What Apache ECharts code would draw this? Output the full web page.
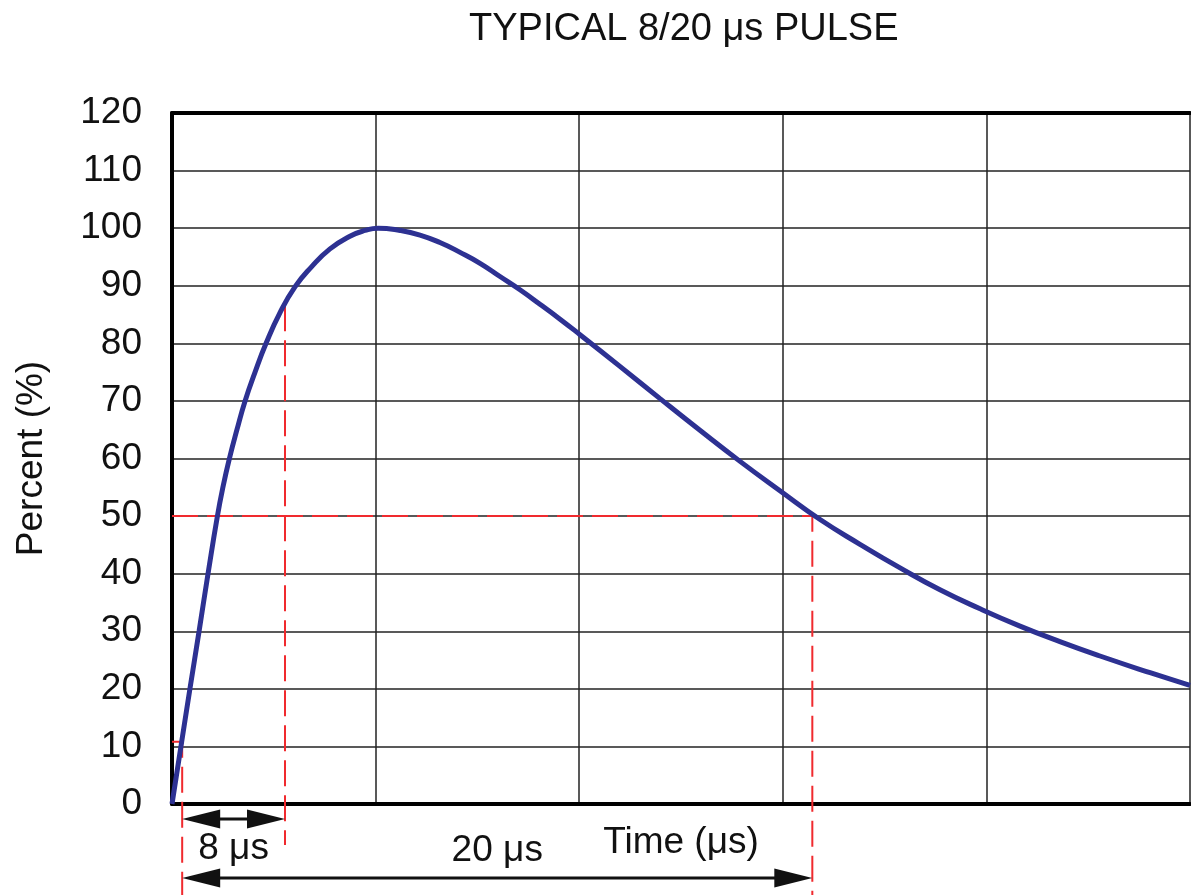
<!DOCTYPE html>
<html><head><meta charset="utf-8">
<script src="https://cdn.jsdelivr.net/npm/echarts@6/dist/echarts.min.js"></script>
<style>html,body{margin:0;padding:0;background:#fff}#c{width:1191px;height:895px}</style>
</head><body><div id="c"></div>
<script>
// ---- data ----
const titleText = 'TYPICAL 8/20 μs PULSE';
const xAxisName = 'Time (μs)';
const yAxisName = 'Percent (%)';
// time in grid units (5 divisions of 10), percent
const curveX = [0, 0.44, 0.88, 1.33, 1.77, 2.23, 2.50, 2.82, 3.19, 3.59, 4.08, 4.62, 5.30, 6.04,
                6.83, 7.76, 8.74, 9.48, 10.12,
                11.20, 12.18, 13.16, 14.15, 15.13, 16.11, 17.09, 18.07, 19.06, 20.04,
                22.0, 23.97, 25.93, 27.9, 29.86, 31.83, 33.79, 35.76, 37.72, 39.69,
                41.65, 43.61, 45.58, 48.04, 50];
const curveY = [0, 10, 20, 30, 40, 50, 55, 60, 65, 70, 75, 80, 85.3, 89.8,
                93.2, 96.4, 98.6, 99.6, 100,
                99.6, 98.8, 97.5, 95.8, 93.9, 91.6, 89.3, 86.8, 84.2, 81.5,
                76.0, 70.4, 64.9, 59.5, 54.4, 49.4, 45.1, 41.0, 37.2, 33.9,
                30.9, 28.2, 25.7, 22.8, 20.6];
// marker points
const t10 = 0.5, y10 = 10.8;     // 10% point
const t90 = 5.55, y90 = 86.6;    // front-time marker
const t50 = 31.45, y50 = 50;     // 50% decay point
const dashBottom = -16;          // dashed guides reach below the axis
const frontBottom = -7.1;
const arrow8Y = -2.6, arrow20Y = -12.85;
const arrowLabels = ['8 μs', '20 μs'];

const FONT = '"Liberation Sans", Arial, Helvetica, sans-serif';
const chart = echarts.init(document.getElementById('c'), null, {renderer: 'canvas'});

const RED = '#f02a2e';
const dashStyle = {color: RED, width: 2, type: [26, 9]};

function dashSeries(data) {
  return {type: 'line', data, clip: false, symbol: 'none', silent: true, z: 3,
          lineStyle: dashStyle, animation: false};
}

const option = {
  animation: false,
  backgroundColor: '#fff',
  title: {
    text: titleText, left: 464, top: 6,
    textStyle: {fontFamily: FONT, fontSize: 38, fontWeight: 'normal', color: '#111'}
  },
  grid: {left: 172, right: 1, top: 113, bottom: 91, containLabel: false},
  xAxis: [{
    type: 'value', min: 0, max: 50, interval: 10, position: 'bottom',
    name: xAxisName, nameLocation: 'middle', nameGap: 20,
    nameTextStyle: {fontFamily: FONT, fontSize: 37, color: '#111'},
    axisLine: {show: true, onZero: false, lineStyle: {color: '#000', width: 4}},
    axisTick: {show: false}, axisLabel: {show: false},
    splitLine: {show: true, lineStyle: {color: '#222', width: 1.5}}
  }, {
    type: 'value', min: 0, max: 50, interval: 10, position: 'top',
    axisLine: {show: true, onZero: false, lineStyle: {color: '#000', width: 4}},
    axisTick: {show: false}, axisLabel: {show: false}, splitLine: {show: false}
  }],
  yAxis: {
    type: 'value', min: 0, max: 120, interval: 10,
    name: yAxisName, nameLocation: 'middle', nameGap: 122, nameRotate: 90,
    nameTextStyle: {fontFamily: FONT, fontSize: 37, color: '#111'},
    axisLine: {show: true, onZero: false, lineStyle: {color: '#000', width: 4}},
    axisTick: {show: false},
    axisLabel: {fontFamily: FONT, fontSize: 37, color: '#111', margin: 30},
    splitLine: {show: true, lineStyle: {color: '#222', width: 1.5}}
  },
  series: [
    dashSeries([[0, y10], [t10, y10], [t10, dashBottom]]),
    dashSeries([[t90, y90], [t90, frontBottom]]),
    dashSeries([[0, y50], [t50, y50], [t50, dashBottom]]),
    {
      type: 'line', data: curveX.map((x, i) => [x, curveY[i]]),
      smooth: 0.5, symbol: 'none', z: 5,
      lineStyle: {color: '#2d3192', width: 5}
    }
  ]
};
chart.setOption(option);

function arrowGraphics(xa, xb, y, label, labelDy) {
  const p1 = chart.convertToPixel({xAxisIndex: 0, yAxisIndex: 0}, [xa, y]);
  const p2 = chart.convertToPixel({xAxisIndex: 0, yAxisIndex: 0}, [xb, y]);
  const L = 38, H = 9.5;
  return [
    {type: 'line', shape: {x1: p1[0] + 10, y1: p1[1], x2: p2[0] - 10, y2: p2[1]},
     style: {stroke: '#111', lineWidth: 3}, z: 10},
    {type: 'polygon', shape: {points: [[p1[0], p1[1]], [p1[0] + L, p1[1] - H], [p1[0] + L, p1[1] + H]]},
     style: {fill: '#111'}, z: 10},
    {type: 'polygon', shape: {points: [[p2[0], p2[1]], [p2[0] - L, p2[1] - H], [p2[0] - L, p2[1] + H]]},
     style: {fill: '#111'}, z: 10},
    {type: 'text', x: (p1[0] + p2[0]) / 2, y: p1[1] + labelDy, z: 10,
     style: {text: label, fontFamily: FONT, fontSize: 37, fill: '#111', align: 'center', verticalAlign: 'middle'}}
  ];
}

chart.setOption({
  graphic: [].concat(
    arrowGraphics(t10, t90, arrow8Y, arrowLabels[0], 30),
    arrowGraphics(t10, t50, arrow20Y, arrowLabels[1], -27)
  )
});
</script></body></html>
